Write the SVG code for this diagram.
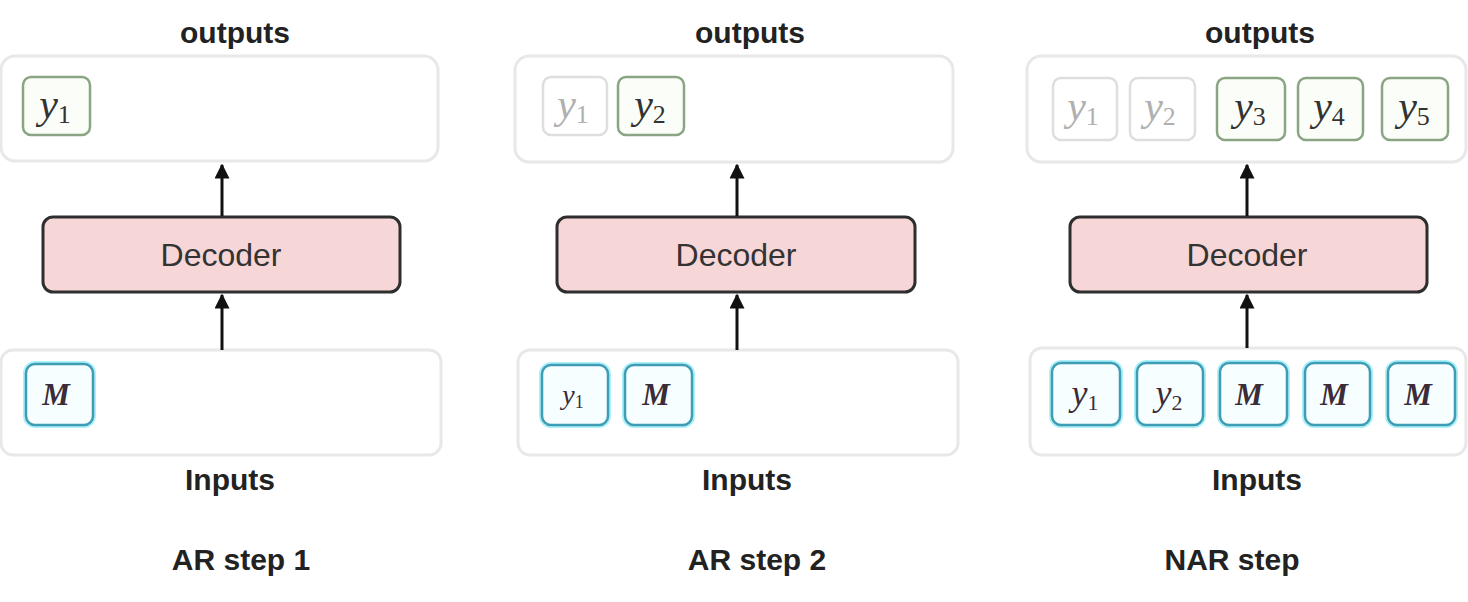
<svg xmlns="http://www.w3.org/2000/svg" width="1468" height="602" viewBox="0 0 1468 602">
<style>
.bg{fill:#ffffff}
.panel{fill:#ffffff;stroke:#e8e8e8;stroke-width:3}
.dec{fill:#f7d6d7;stroke:#2e2e2e;stroke-width:3}
.dect{font-family:"Liberation Sans",Arial,sans-serif;font-size:32px;fill:#333;text-anchor:middle}
.lbl{font-family:"Liberation Sans",Arial,sans-serif;font-size:30px;font-weight:bold;fill:#222;text-anchor:middle}
.ok{fill:#fbfef8;stroke:#8aa584;stroke-width:2.5}
.fade{fill:#ffffff;stroke:#dedede;stroke-width:2.5}
.inglow{fill:none;stroke:#aef0fa;stroke-width:6}
.in{fill:#f6feff;stroke:#3f9db3;stroke-width:2.5}
.ty{font-family:"Liberation Serif","Times New Roman",serif;font-style:italic;font-size:42px;fill:#333;text-anchor:middle}
.tyf{font-family:"Liberation Serif","Times New Roman",serif;font-style:italic;font-size:42px;fill:#b0b0b0;text-anchor:middle}
.sub{font-style:normal;font-size:26px}
.tm{font-family:"Liberation Serif","Times New Roman",serif;font-style:italic;font-weight:bold;font-size:31px;fill:#3a2c38;text-anchor:middle}
.tyi{font-family:"Liberation Serif","Times New Roman",serif;font-style:italic;font-size:36px;fill:#3a2c38;text-anchor:middle}
.conn{stroke:#111;stroke-width:3;fill:none}
</style>
<defs>
<marker id="ah" viewBox="0 0 10 10" refX="9" refY="5" markerWidth="5" markerHeight="5" markerUnits="strokeWidth" orient="auto">
<path d="M0,0 L10,5 L0,10 z" fill="#111"/>
</marker>
</defs>
<rect class="bg" x="0" y="0" width="1468" height="602"/>

<!-- Panel 1 -->
<g id="p1-outputs">
<text class="lbl" x="235" y="43">outputs</text>
<rect class="panel" x="1" y="56" width="437" height="105" rx="14"/>
</g>
<g id="p1-out-y1">
<rect class="ok" x="23" y="77" width="67" height="58" rx="8"/>
<text class="ty" x="55" y="118">y<tspan class="sub" dy="5">1</tspan></text>
</g>
<g id="p1-decoder">
<rect class="dec" x="43" y="217" width="357" height="75" rx="10"/>
<text class="dect" x="221" y="266">Decoder</text>
</g>
<g id="p1-inputs">
<rect class="panel" x="1" y="350" width="440" height="105" rx="12"/>
<text class="lbl" x="230" y="490">Inputs</text>
</g>
<g id="p1-in-M">
<rect class="inglow" x="26" y="364" width="67" height="61" rx="9"/>
<rect class="in" x="26" y="364" width="67" height="61" rx="9"/>
<text class="tm" x="56" y="405">M</text>
</g>
<g id="p1-title">
<text class="lbl" x="241" y="570">AR step 1</text>
</g>

<!-- Panel 2 -->
<g id="p2-outputs">
<text class="lbl" x="750" y="43">outputs</text>
<rect class="panel" x="515" y="56" width="438" height="106" rx="14"/>
</g>
<g id="p2-out-y1">
<rect class="fade" x="543" y="77" width="64" height="58" rx="8"/>
<text class="tyf" x="573" y="118">y<tspan class="sub" dy="5">1</tspan></text>
</g>
<g id="p2-out-y2">
<rect class="ok" x="618" y="77" width="66" height="58" rx="8"/>
<text class="ty" x="650" y="118">y<tspan class="sub" dy="5">2</tspan></text>
</g>
<g id="p2-decoder">
<rect class="dec" x="557" y="217" width="358" height="75" rx="10"/>
<text class="dect" x="736" y="266">Decoder</text>
</g>
<g id="p2-inputs">
<rect class="panel" x="518" y="350" width="440" height="105" rx="12"/>
<text class="lbl" x="747" y="490">Inputs</text>
</g>
<g id="p2-in-y1">
<rect class="inglow" x="542" y="365" width="66" height="60" rx="9"/>
<rect class="in" x="542" y="365" width="66" height="60" rx="9"/>
<text class="tyi" x="573" y="404" style="font-size:28px">y<tspan class="sub" style="font-size:18px" dy="4">1</tspan></text>
</g>
<g id="p2-in-M">
<rect class="inglow" x="625" y="365" width="67" height="60" rx="9"/>
<rect class="in" x="625" y="365" width="67" height="60" rx="9"/>
<text class="tm" x="656" y="405">M</text>
</g>
<g id="p2-title">
<text class="lbl" x="757" y="570">AR step 2</text>
</g>

<!-- Panel 3 -->
<g id="p3-outputs">
<text class="lbl" x="1260" y="43">outputs</text>
<rect class="panel" x="1027" y="56" width="439" height="106" rx="14"/>
</g>
<g id="p3-out-y1">
<rect class="fade" x="1053" y="78" width="64" height="62" rx="8"/>
<text class="tyf" x="1083" y="120">y<tspan class="sub" dy="5">1</tspan></text>
</g>
<g id="p3-out-y2">
<rect class="fade" x="1130" y="78" width="65" height="62" rx="8"/>
<text class="tyf" x="1160" y="120">y<tspan class="sub" dy="5">2</tspan></text>
</g>
<g id="p3-out-y3">
<rect class="ok" x="1217" y="78" width="68" height="62" rx="8"/>
<text class="ty" x="1250" y="120">y<tspan class="sub" dy="5">3</tspan></text>
</g>
<g id="p3-out-y4">
<rect class="ok" x="1298" y="78" width="65" height="62" rx="8"/>
<text class="ty" x="1329" y="120">y<tspan class="sub" dy="5">4</tspan></text>
</g>
<g id="p3-out-y5">
<rect class="ok" x="1382" y="78" width="66" height="62" rx="8"/>
<text class="ty" x="1414" y="120">y<tspan class="sub" dy="5">5</tspan></text>
</g>
<g id="p3-decoder">
<rect class="dec" x="1070" y="217" width="357" height="75" rx="10"/>
<text class="dect" x="1247" y="266">Decoder</text>
</g>
<g id="p3-inputs">
<rect class="panel" x="1030" y="348" width="436" height="107" rx="12"/>
<text class="lbl" x="1257" y="490">Inputs</text>
</g>
<g id="p3-in-y1">
<rect class="inglow" x="1052" y="363" width="68" height="62" rx="9"/>
<rect class="in" x="1052" y="363" width="68" height="62" rx="9"/>
<text class="tyi" x="1085" y="405">y<tspan class="sub" style="font-size:22px" dy="5">1</tspan></text>
</g>
<g id="p3-in-y2">
<rect class="inglow" x="1137" y="363" width="66" height="62" rx="9"/>
<rect class="in" x="1137" y="363" width="66" height="62" rx="9"/>
<text class="tyi" x="1169" y="405">y<tspan class="sub" style="font-size:22px" dy="5">2</tspan></text>
</g>
<g id="p3-in-M1">
<rect class="inglow" x="1220" y="363" width="67" height="62" rx="9"/>
<rect class="in" x="1220" y="363" width="67" height="62" rx="9"/>
<text class="tm" x="1249" y="405">M</text>
</g>
<g id="p3-in-M2">
<rect class="inglow" x="1305" y="363" width="65" height="62" rx="9"/>
<rect class="in" x="1305" y="363" width="65" height="62" rx="9"/>
<text class="tm" x="1334" y="405">M</text>
</g>
<g id="p3-in-M3">
<rect class="inglow" x="1388" y="363" width="67" height="62" rx="9"/>
<rect class="in" x="1388" y="363" width="67" height="62" rx="9"/>
<text class="tm" x="1418" y="405">M</text>
</g>
<g id="p3-title">
<text class="lbl" x="1232" y="570">NAR step</text>
</g>

<!-- Connectors -->
<g id="connectors">
<line class="conn" x1="222" y1="216" x2="222" y2="165" marker-end="url(#ah)"/>
<line class="conn" x1="222" y1="350" x2="222" y2="295" marker-end="url(#ah)"/>
<line class="conn" x1="737" y1="216" x2="737" y2="165" marker-end="url(#ah)"/>
<line class="conn" x1="737" y1="350" x2="737" y2="295" marker-end="url(#ah)"/>
<line class="conn" x1="1247" y1="216" x2="1247" y2="165" marker-end="url(#ah)"/>
<line class="conn" x1="1247" y1="348" x2="1247" y2="295" marker-end="url(#ah)"/>
</g>
</svg>
